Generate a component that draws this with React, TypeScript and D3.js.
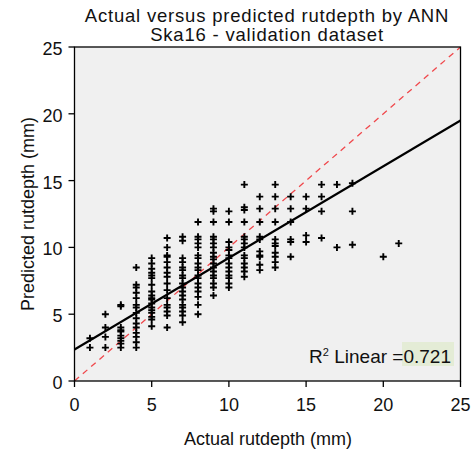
import React from "react";
import * as d3 from "d3";

const title1 = "Actual versus predicted rutdepth by ANN";
const title2 = "Ska16 - validation dataset";
const xLabel = "Actual rutdepth (mm)";
const yLabel = "Predicted rutdepth (mm)";
const ticks = [0, 5, 10, 15, 20, 25];
const r2Text = "0.721";
const fitIntercept = 2.35;
const fitSlope = 0.686;

// predicted values per actual rutdepth (mm)
const actual = [1, 2, 3, 4, 5, 6, 7, 8, 9, 10, 11, 12, 13, 14, 15, 16, 17, 18, 20, 21];
const predicted: number[][] = [
  [3.2, 2.5],
  [5.0, 4.0, 3.3, 2.5],
  [5.7, 5.6, 4.0, 3.8, 3.7, 3.4, 3.2, 3.0, 2.8, 2.5],
  [8.5, 7.2, 7.0, 6.6, 6.2, 5.7, 5.5, 5.1, 4.7, 4.3, 4.0, 3.6, 3.3, 2.9, 2.5],
  [9.2, 8.8, 8.4, 8.1, 7.9, 7.7, 7.2, 6.7, 6.4, 6.2, 6.1, 5.8, 5.5, 5.3, 5.1, 4.8, 4.6, 4.1],
  [10.7, 10.0, 9.4, 9.3, 8.9, 8.5, 8.1, 7.8, 7.3, 6.8, 6.2, 5.7, 5.5, 5.2, 4.9, 4.0],
  [10.8, 10.5, 9.2, 8.9, 8.5, 8.3, 7.9, 7.7, 7.3, 7.0, 6.7, 6.4, 6.1, 5.7, 5.5, 5.2, 4.9, 4.4],
  [11.9, 10.8, 10.6, 10.3, 10.0, 9.4, 9.2, 8.8, 8.5, 8.3, 7.9, 7.7, 7.3, 7.0, 6.7, 6.3, 5.7, 5.0],
  [12.9, 12.7, 11.9, 10.8, 10.6, 10.3, 10.0, 9.6, 9.3, 9.1, 8.8, 8.5, 8.2, 7.9, 7.7, 7.3, 7.0, 6.4],
  [12.7, 11.9, 10.4, 10.0, 9.8, 9.4, 9.2, 8.8, 8.5, 8.2, 7.9, 7.7, 7.3, 7.0],
  [14.7, 13.0, 12.8, 11.9, 10.8, 10.6, 10.3, 10.0, 9.4, 9.2, 8.8, 8.5, 8.2, 7.8],
  [13.8, 12.9, 11.9, 10.8, 10.6, 9.7, 9.4, 9.3, 8.7, 8.3],
  [14.7, 13.8, 12.9, 11.9, 10.6, 10.3, 10.1, 9.6, 9.3, 8.9, 8.5],
  [13.8, 12.9, 11.9, 10.6, 10.4, 9.3],
  [13.8, 12.9, 10.9, 10.4],
  [14.7, 13.8, 12.7, 10.7],
  [14.7, 10.0],
  [14.8, 12.7, 10.2],
  [9.3],
  [10.3],
];

const W = 473;
const H = 452;
const L = 74.5, R = 460.5, T = 47, B = 381;
const font = "Arial, 'Liberation Sans', sans-serif";

export default function App() {
  const x = d3.scaleLinear().domain([0, 25]).range([L, R]);
  const y = d3.scaleLinear().domain([0, 25]).range([B, T]);
  const pts: { a: number; p: number }[] = [];
  actual.forEach((a, i) => predicted[i].forEach((p) => pts.push({ a, p })));
  const line = d3.line<number>().x((d) => x(d)).y((d) => y(fitIntercept + fitSlope * d));
  const s = 3.5;
  return (
    <svg width={W} height={H} style={{ position: "absolute", left: 0, top: 0 }} fontFamily={font}>
      <rect x={0} y={0} width={W} height={H} fill="#ffffff" />
      <text x={267} y={22} textAnchor="middle" fontSize={18.5} letterSpacing={0.8} fill="#111">{title1}</text>
      <text x={267} y={41} textAnchor="middle" fontSize={18.5} letterSpacing={0.8} fill="#111">{title2}</text>
      <defs>
        <clipPath id="pa"><rect x={L} y={T} width={R - L} height={B - T} /></clipPath>
      </defs>
      <rect x={L} y={T} width={R - L} height={B - T} fill="#f0f0f0" />
      <g clipPath="url(#pa)">
        <line x1={x(0)} y1={y(0)} x2={x(25)} y2={y(25)} stroke="#f0484c" strokeWidth={1.3} strokeDasharray="6,5" />
        {pts.map((d, i) => (
          <path key={i}
            d={`M${x(d.a) - s},${y(d.p)}H${x(d.a) + s}M${x(d.a)},${y(d.p) - s}V${y(d.p) + s}`}
            stroke="#000" strokeWidth={1.9} fill="none" />
        ))}
        <path d={line([0, 25]) || ""} stroke="#000" strokeWidth={2.2} fill="none" />
      </g>
      <rect x={402} y={342} width={52} height={24} fill="#e4ecd6" />
      <text x={451} y={363} textAnchor="end" fontSize={19} fill="#111">
        <tspan>R</tspan>
        <tspan fontSize={11} dy={-7}>2</tspan>
        <tspan dy={7}> Linear =</tspan>
        <tspan>{r2Text}</tspan>
      </text>
      <rect x={L} y={T} width={R - L} height={B - T} fill="none" stroke="#000" strokeWidth={1.3} />
      {ticks.map((t) => (
        <g key={"x" + t}>
          <line x1={x(t)} x2={x(t)} y1={B} y2={B + 6} stroke="#000" strokeWidth={1.3} />
          <text x={x(t)} y={B + 30} textAnchor="middle" fontSize={18} fill="#111">{t}</text>
        </g>
      ))}
      {ticks.map((t) => (
        <g key={"y" + t}>
          <line x1={L - 6} x2={L} y1={y(t)} y2={y(t)} stroke="#000" strokeWidth={1.3} />
          <text x={L - 12} y={y(t) + 8} textAnchor="end" fontSize={18} fill="#111">{t}</text>
        </g>
      ))}
      <text x={268} y={445} textAnchor="middle" fontSize={18} fill="#111">{xLabel}</text>
      <text transform={`translate(34,${(T + B) / 2}) rotate(-90)`} textAnchor="middle" fontSize={18} fill="#111">{yLabel}</text>
    </svg>
  );
}
